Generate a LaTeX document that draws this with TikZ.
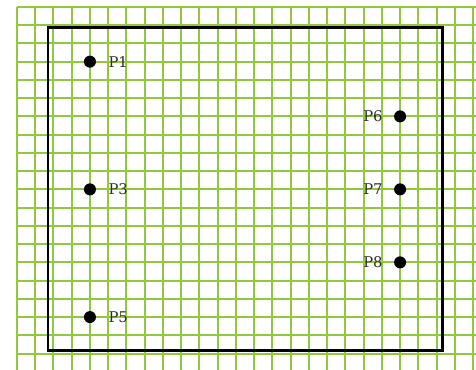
\documentclass[tikz,border=0pt]{standalone}
\usepackage{fontspec}
\setmainfont{DejaVu Serif}
\usepackage{tikz}
\usetikzlibrary{positioning}
\definecolor{gridgreen}{RGB}{146,200,60}
\definecolor{labelgray}{RGB}{45,45,45}
\tikzset{
  gridline/.style={
    draw = gridgreen,
    line width=1.5pt,
    step=0.5cm,
  },
  frame/.style={
    draw = black,
    line width=2.3pt,
  },
  dot/.style={
    inner sep = 0pt,
    shape = circle,
    minimum size = 0.33cm,
    fill = black
  },
  plabel/.style={
    inner sep = 0pt,
    text = labelgray,
    font = \fontsize{11.5}{13}\selectfont
  }
}

\begin{document}
\begin{tikzpicture}[x=0.5cm,y=0.5cm]
    \useasboundingbox (-0.93,-0.88) rectangle (25.16,19.38);
    % paper grid
    \draw[gridline] (0,-0.88) grid (25.16,19);
    % outer frame
    \draw[frame] (1.7,0.15) rectangle (23.34,17.85);
    % left column
    \node[dot] (p1) at (4,16) {};
    \node[dot] (p3) at (4,9) {};
    \node[dot] (p5) at (4,2) {};
    \node[plabel, right=0.33cm of p1] (p1l) {P1};
    \node[plabel, right=0.33cm of p3] (p3l) {P3};
    \node[plabel, right=0.33cm of p5] (p5l) {P5};
    % right column
    \node[dot] (p6) at (21,13) {};
    \node[dot] (p7) at (21,9) {};
    \node[dot] (p8) at (21,5) {};
    \node[plabel, left=0.3cm of p6] (p6l) {P6};
    \node[plabel, left=0.3cm of p7] (p7l) {P7};
    \node[plabel, left=0.3cm of p8] (p8l) {P8};
\end{tikzpicture}
\end{document}
